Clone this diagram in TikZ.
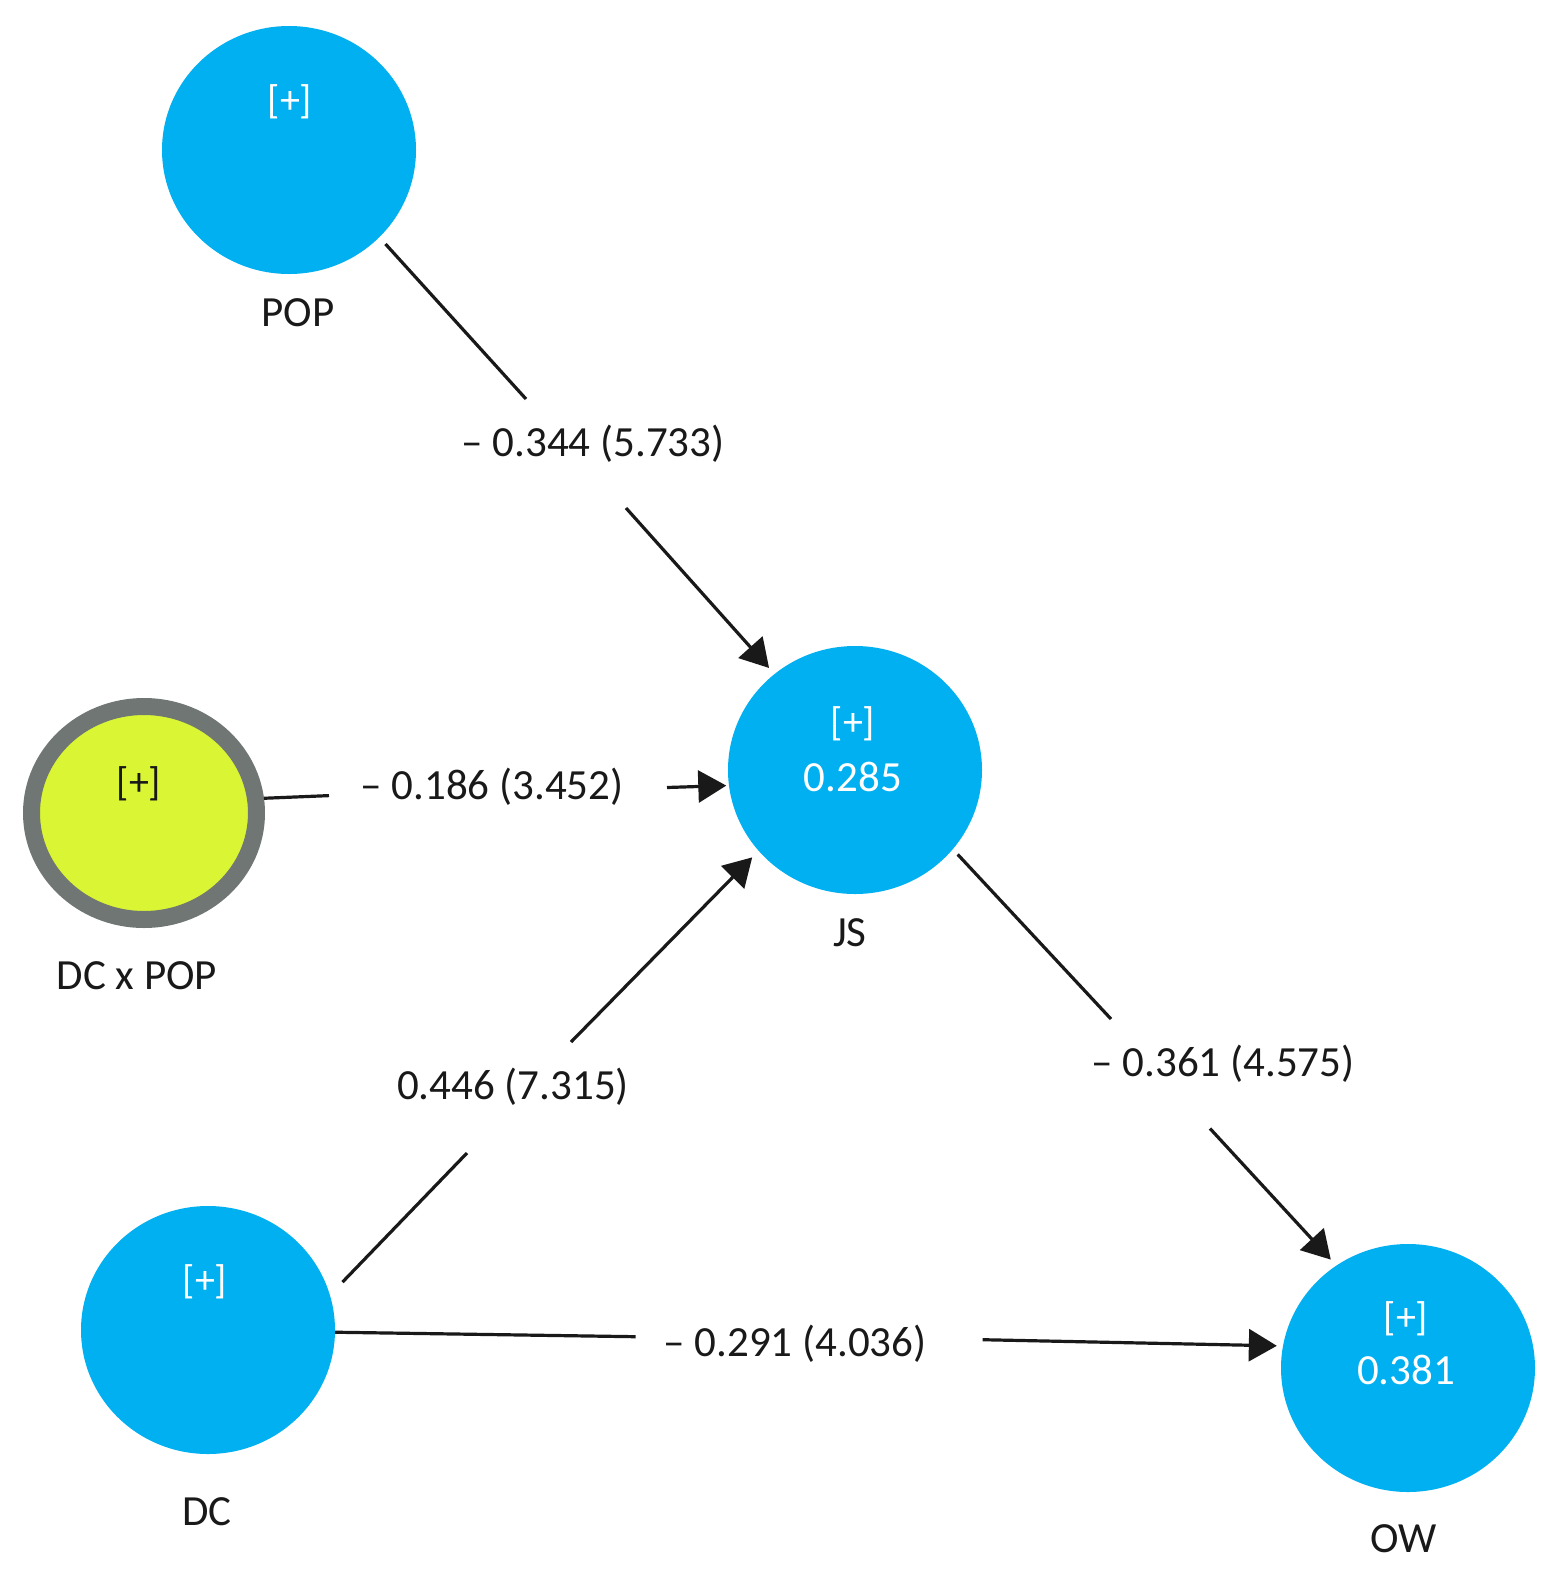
\documentclass[tikz,border=0pt]{standalone}
\usepackage{fontspec}
\setmainfont{Carlito}
\usetikzlibrary{shapes.geometric,arrows.meta}
\definecolor{lvblue}{RGB}{0,176,240}
\definecolor{lvyellow}{RGB}{218,245,52}
\definecolor{lvgray}{RGB}{112,118,116}
\definecolor{lvink}{RGB}{25,25,25}
\begin{document}
\begin{tikzpicture}[x=1pt,y=-1pt,
  latent/.style={ellipse, fill=lvblue, minimum width=254pt, minimum height=248pt, inner sep=0pt},
  intext/.style={text=white, inner sep=0pt, font=\fontsize{40}{48}\selectfont},
  inval/.style={text=white, inner sep=0pt, font=\fontsize{43}{52}\selectfont},
  vname/.style={text=lvink, inner sep=0pt, font=\fontsize{43}{52}\selectfont},
  coef/.style={text=lvink, inner sep=0pt, font=\fontsize{43}{52}\selectfont},
  conn/.style={draw=lvink, line width=3.2pt},
  conna/.style={conn, -{Triangle[length=28pt,width=32pt]}}]
\useasboundingbox (0,0) rectangle (1558,1577);
\fill[white] (0,0) rectangle (1558,1577);

% latent variables
\node[latent] (POP) at (289,150) {};
\node[latent] (JS) at (855,770) {};
\node[latent] (DC) at (208,1330) {};
\node[latent] (OW) at (1408,1368) {};
\node[ellipse, fill=lvyellow, draw=lvgray, line width=17pt, minimum width=225pt, minimum height=213pt, inner sep=0pt] (DCxPOP) at (144,813) {};

% texts inside
\node[intext] (popplus) at (290,102) {[+]};
\node[intext] (jsplus) at (853,724) {[+]};
\node[inval] (jsr2) at (853,777) {0.285};
\node[intext] (dcplus) at (205,1282) {[+]};
\node[intext] (owplus) at (1406,1319) {[+]};
\node[inval] (owr2) at (1406,1370) {0.381};
\node[intext, text=lvink] (dxpplus) at (139,784) {[+]};

% names
\node[vname] (popname) at (298,313) {POP};
\node[vname] (jsname) at (850,933) {JS};
\node[vname] (dxpname) at (137,976) {DC x POP};
\node[vname] (dcname) at (207,1512) {DC};
\node[vname] (owname) at (1404,1539) {OW};

% path coefficients
\node[coef] (l1) at (593,444) {– 0.344 (5.733)};
\node[coef] (l2) at (492,787) {– 0.186 (3.452)};
\node[coef] (l3) at (513,1087) {0.446 (7.315)};
\node[coef] (l4) at (1223,1064) {– 0.361 (4.575)};
\node[coef] (l5) at (795,1344) {– 0.291 (4.036)};

% gap coordinates
\coordinate (e1a) at (526,399);
\coordinate (e1b) at (626,508);
\coordinate (e2a) at (329,795.6);
\coordinate (e2b) at (667,787.5);
\coordinate (e3a) at (467,1153);
\coordinate (e3b) at (571,1042);
\coordinate (e4a) at (1111,1019);
\coordinate (e4b) at (1210,1128.5);
\coordinate (e5a) at (635.7,1336.7);
\coordinate (e5b) at (982.7,1339.7);

% connectors
\draw[conn, shorten <=9pt] (POP.-44) -- (e1a);
\draw[conna, shorten >=8pt] (e1b) -- (JS.130);
\draw[conn] (DCxPOP.7) -- (e2a);
\draw[conna, shorten >=2.5pt] (e2b) -- (JS.187);
\draw[conn, shorten <=18pt] (DC.16.5) -- (e3a);
\draw[conna, shorten >=9pt] (e3b) -- (JS.220);
\draw[conn, shorten <=7pt] (JS.-39) -- (e4a);
\draw[conna, shorten >=8pt] (e4b) -- (OW.125);
\draw[conn] (DC.-1) -- (e5a);
\draw[conna, shorten >=6pt] (e5b) -- (OW.170.5);
\end{tikzpicture}
\end{document}
